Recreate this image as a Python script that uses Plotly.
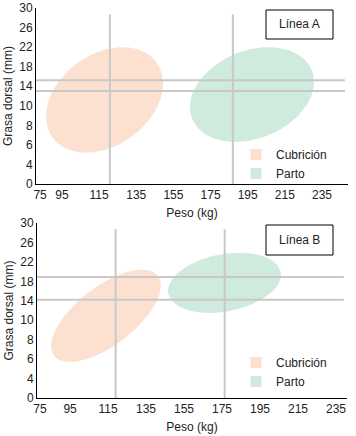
import numpy as np
import plotly.graph_objects as go

# ---------------- data ----------------
x_tick_labels = [75, 95, 115, 135, 155, 175, 195, 215, 235]
y_tick_labels = [0, 4, 6, 8, 10, 14, 18, 22, 26, 30]
series = ["Cubrición", "Parto"]
colors = {"Cubrición": "#fde1d0", "Parto": "#cfebdd"}

# Línea A : ellipses (centre kg, centre mm, half-width kg, half-height mm, skew)
lineA_cx = [117.9, 197.3]
lineA_cy = [11.2, 12.3]
lineA_rx = [31.5, 33.4]
lineA_ry = [10.8, 9.7]
lineA_skew = [0.31, 0.265]
lineA_vlines = [120.8, 187.0]
lineA_hlines = [15.2, 13.0]

# Línea B
lineB_cx = [113.9, 176.3]
lineB_cy = [10.9, 17.7]
lineB_rx = [28.9, 29.7]
lineB_ry = [9.5, 6.2]
lineB_skew = [0.655, 0.265]
lineB_vlines = [119.0, 176.4]
lineB_hlines = [18.9, 14.2]

# ---------------- figure ----------------
W, H = 356, 436
FONT = "Liberation Sans, Arial, sans-serif"
TXT = "#222222"
GRAY = "#c8c8c8"

fig = go.Figure()

def ellipse(cx, cy, rx, ry, skew, n=200):
    t = np.linspace(0, 2 * np.pi, n)
    phi = np.arcsin(skew)
    return cx + rx * np.cos(t), cy + ry * np.sin(t + phi)

panels = [
    dict(xa="x", ya="y", leg="legend", cx=lineA_cx, cy=lineA_cy, rx=lineA_rx,
         ry=lineA_ry, sk=lineA_skew, vl=lineA_vlines, hl=lineA_hlines),
    dict(xa="x2", ya="y2", leg="legend2", cx=lineB_cx, cy=lineB_cy, rx=lineB_rx,
         ry=lineB_ry, sk=lineB_skew, vl=lineB_vlines, hl=lineB_hlines),
]

shapes = []
for p in panels:
    for i, name in enumerate(series):
        ex, ey = ellipse(p["cx"][i], p["cy"][i], p["rx"][i], p["ry"][i], p["sk"][i])
        fig.add_trace(go.Scatter(x=ex, y=ey, mode="lines", fill="toself",
                                 fillcolor=colors[name], line=dict(width=0, color=colors[name]),
                                 xaxis=p["xa"], yaxis=p["ya"], showlegend=False,
                                 hoverinfo="skip"))
    for i, name in enumerate(series):
        fig.add_trace(go.Scatter(x=[None], y=[None], mode="markers", name=name,
                                 marker=dict(symbol="square", size=11, color=colors[name]),
                                 xaxis=p["xa"], yaxis=p["ya"], legend=p["leg"]))
    for v in p["vl"]:
        shapes.append(dict(type="line", xref=p["xa"], yref=p["ya"], x0=v, x1=v,
                           y0=-6, y1=28.7, line=dict(color=GRAY, width=2), layer="above"))
    for h in p["hl"]:
        shapes.append(dict(type="line", xref=p["xa"] + " domain", yref=p["ya"], x0=0, x1=0.99,
                           y0=h, y1=h, line=dict(color=GRAY, width=2), layer="above"))

# boxes with panel titles
for (y0, y1, label) in [(10, 39, "Línea A"), (225, 255, "Línea B")]:
    shapes.append(dict(type="rect", xref="paper", yref="paper",
                       x0=266 / W, x1=333 / W, y0=1 - y1 / H, y1=1 - y0 / H,
                       line=dict(color="black", width=1), fillcolor="rgba(0,0,0,0)",
                       layer="above"))

annotations = [
    dict(text="Línea A", xref="paper", yref="paper", x=299.5 / W, y=1 - 24.5 / H,
         xanchor="center", yanchor="middle",
         showarrow=False, font=dict(size=12, color=TXT, family=FONT)),
    dict(text="Línea B", xref="paper", yref="paper", x=299.5 / W, y=1 - 240 / H,
         xanchor="center", yanchor="middle",
         showarrow=False, font=dict(size=12, color=TXT, family=FONT)),
]

y_tickvals = list(np.linspace(-6, 30, len(y_tick_labels)))

def xaxis_cfg(rng, first_offset, domain, anchor, standoff):
    tv = [rng[0] + first_offset] + x_tick_labels[1:]
    return dict(range=rng, domain=domain, anchor=anchor, tickvals=tv,
                ticktext=[str(v) for v in x_tick_labels], showgrid=False, zeroline=False,
                showline=True, linecolor="black", linewidth=1, ticks="", automargin=False,
                tickfont=dict(size=12, color=TXT, family=FONT),
                title=dict(text="Peso (kg)", font=dict(size=12, color=TXT, family=FONT),
                           standoff=standoff))

def yaxis_cfg(domain, anchor):
    return dict(range=[-6, 30], domain=domain, anchor=anchor, tickvals=y_tickvals,
                ticktext=[str(v) for v in y_tick_labels], showgrid=False, zeroline=False,
                showline=True, linecolor="black", linewidth=1, ticks="", automargin=False,
                tickfont=dict(size=12, color=TXT, family=FONT),
                title=dict(text="Grasa dorsal (mm)", font=dict(size=12, color=TXT, family=FONT),
                           standoff=4))

fig.update_layout(
    width=W, height=H,
    margin=dict(l=0, r=0, t=0, b=0, autoexpand=False),
    paper_bgcolor="white", plot_bgcolor="white",
    font=dict(family=FONT, size=12, color=TXT),
    xaxis=xaxis_cfg([81, 249], 2.2, [36 / W, 348 / W], "y", 7),
    yaxis=yaxis_cfg([1 - 184 / H, 1 - 8 / H], "x"),
    xaxis2=xaxis_cfg([77.6, 240.8], 1.6, [37 / W, 347 / W], "y2", 7),
    yaxis2=yaxis_cfg([1 - 398 / H, 1 - 223 / H], "x2"),
    legend=dict(x=236 / W, y=1 - 140 / H, xanchor="left", yanchor="top",
                bgcolor="rgba(0,0,0,0)", font=dict(size=12, color=TXT, family=FONT),
                tracegroupgap=0, itemclick=False),
    legend2=dict(x=236 / W, y=1 - 348 / H, xanchor="left", yanchor="top",
                 bgcolor="rgba(0,0,0,0)", font=dict(size=12, color=TXT, family=FONT),
                 tracegroupgap=0, itemclick=False),
    shapes=shapes,
    annotations=annotations,
)

fig.write_html("out.html", config={"displayModeBar": False},
               post_script="document.body.style.margin='0';document.body.style.overflow='hidden';")
